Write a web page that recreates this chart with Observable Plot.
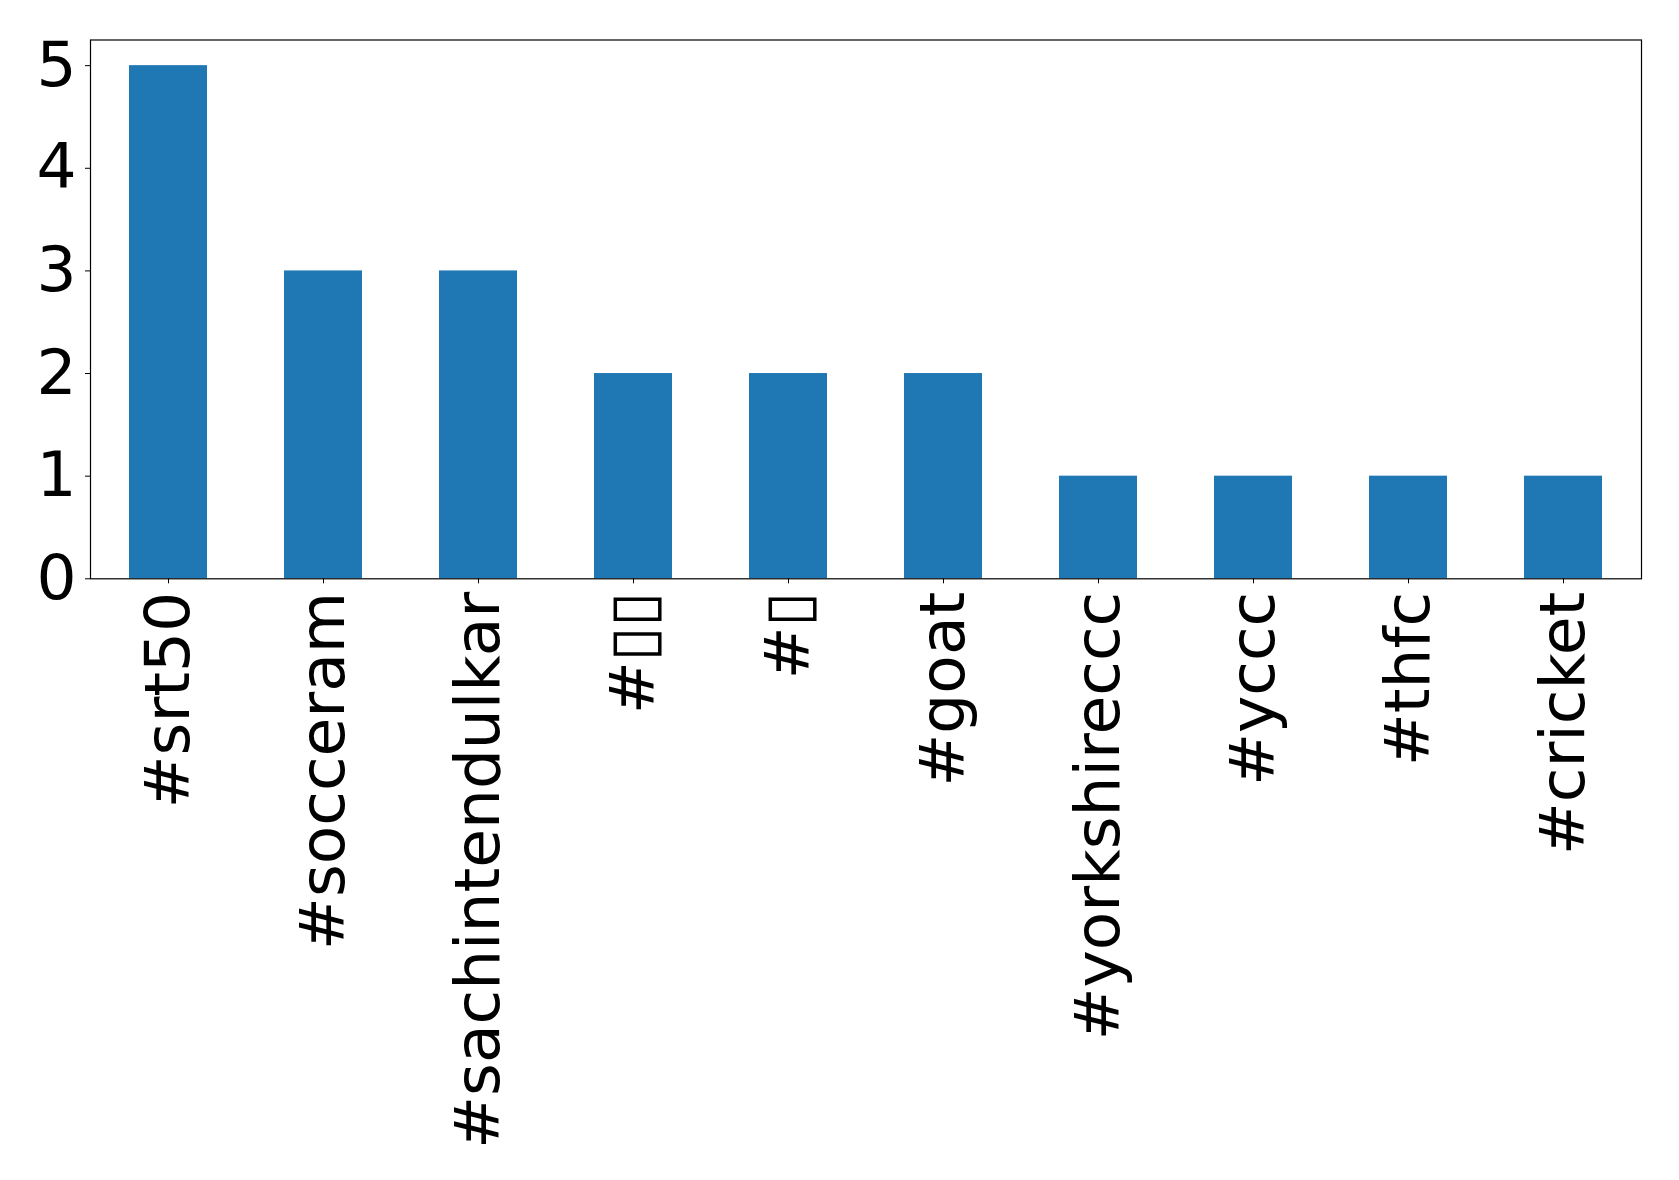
<!DOCTYPE html>
<html>
<head>
<meta charset="utf-8">
<script src="https://cdn.jsdelivr.net/npm/d3@7"></script>
<script src="https://cdn.jsdelivr.net/npm/@observablehq/plot@0.6"></script>
<style>
  html, body { margin: 0; padding: 0; background: #fff; }
  svg { display: block; }
</style>
</head>
<body>
<div id="chart"></div>
<script>
// The two emoji-only hashtags render as missing-glyph boxes in the reference.
const hashtags = ["#srt50", "#socceram", "#sachintendulkar", "#▯▯", "#▯", "#goat", "#yorkshireccc", "#yccc", "#thfc", "#cricket"];
const counts = [5, 3, 3, 2, 2, 2, 1, 1, 1, 1];
const yTicks = [0, 1, 2, 3, 4, 5];

const data = hashtags.map((h, i) => ({tag: h, count: counts[i]}));

const chart = Plot.plot({
  width: 1679,
  height: 1180,
  marginLeft: 90,
  marginRight: 38,
  marginTop: 39.5,
  marginBottom: 601.7,
  style: {fontFamily: "DejaVu Sans", fontSize: "63px", color: "#000", background: "#fff"},
  x: {domain: hashtags, paddingInner: 0.5, paddingOuter: 0.25, label: null},
  y: {domain: [0, 5.25], label: null},
  marks: [
    Plot.barY(data, {x: "tag", y: "count", fill: "#1f77b4"}),
    Plot.axisY({ticks: yTicks, tickSize: 5, tickPadding: 9, tickFormat: d => String(d), label: null, fontSize: 63}),
    Plot.axisX({tickRotate: -90, tickSize: 5, tickPadding: 8, label: null, fontSize: 63}),
    Plot.frame({stroke: "#000", strokeWidth: 1.2})
  ]
});
document.getElementById("chart").appendChild(chart);
</script>
</body>
</html>
